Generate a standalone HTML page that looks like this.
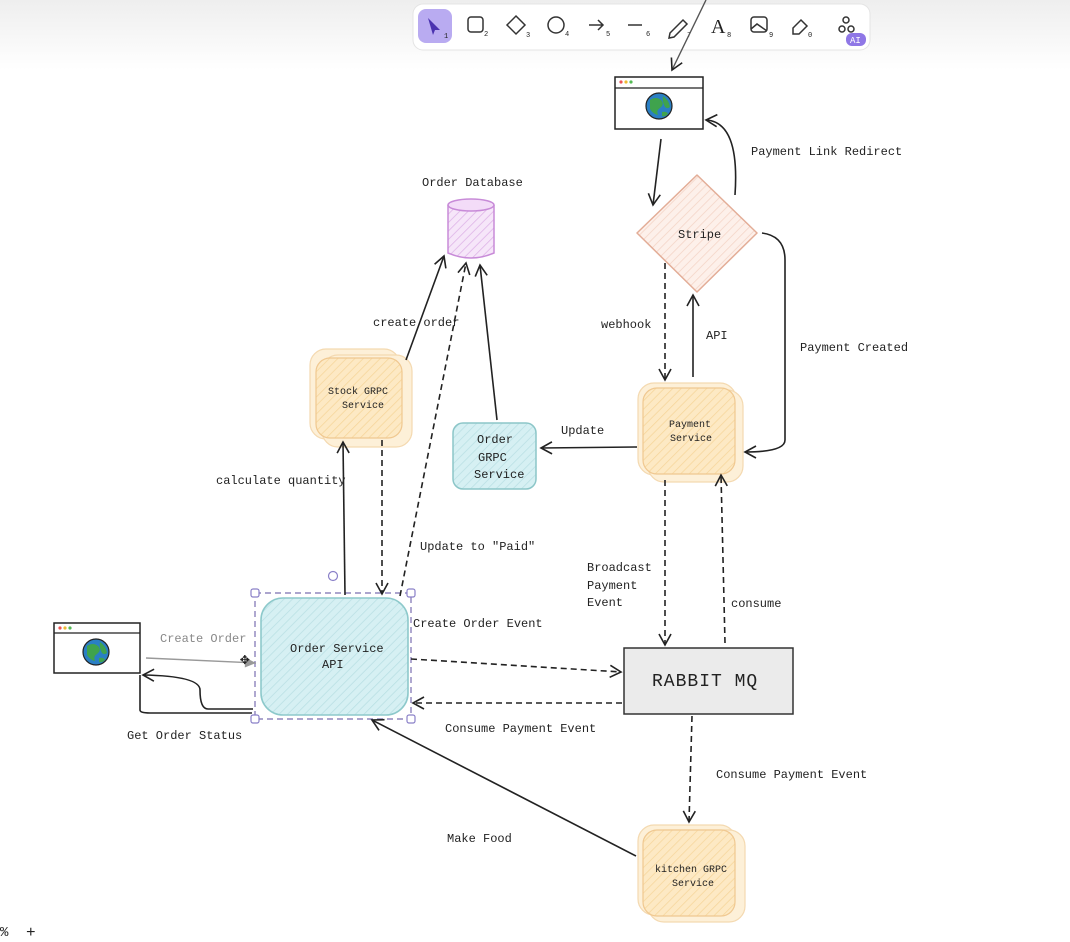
<!DOCTYPE html>
<html><head><meta charset="utf-8"><style>
html,body{margin:0;padding:0;background:#fff;}
body{width:1070px;height:942px;overflow:hidden;position:relative;font-family:"Liberation Sans",sans-serif;}
svg{position:absolute;left:0;top:0}
text{font-family:"Liberation Mono","DejaVu Sans Mono",monospace;font-size:12px;fill:#222}
</style></head><body>
<svg width="1070" height="942" viewBox="0 0 1070 942">
<defs>
<linearGradient id="tg" x1="0" y1="0" x2="0" y2="1"><stop offset="0" stop-color="#eeeeee"/><stop offset="1" stop-color="#ffffff"/></linearGradient>
<pattern id="hatchB" width="6" height="6" patternUnits="userSpaceOnUse" patternTransform="rotate(45)"><rect width="6" height="6" fill="#d6f0f3"/><line x1="0" y1="0" x2="0" y2="6" stroke="#b8dfe3" stroke-width="1.5"/></pattern>
<pattern id="hatchO" width="6" height="6" patternUnits="userSpaceOnUse" patternTransform="rotate(45)"><rect width="6" height="6" fill="#fde9c4"/><line x1="0" y1="0" x2="0" y2="6" stroke="#f6d59a" stroke-width="1.5"/></pattern>
<pattern id="hatchP" width="6" height="6" patternUnits="userSpaceOnUse" patternTransform="rotate(45)"><rect width="6" height="6" fill="#f6e6f9"/><line x1="0" y1="0" x2="0" y2="6" stroke="#dcb0e6" stroke-width="1.5"/></pattern>
<pattern id="hatchR" width="6" height="6" patternUnits="userSpaceOnUse" patternTransform="rotate(45)"><rect width="6" height="6" fill="#fdf0ea"/><line x1="0" y1="0" x2="0" y2="6" stroke="#f3d3c5" stroke-width="1.5"/></pattern>
<marker id="a" markerWidth="14" markerHeight="14" refX="12" refY="7" orient="auto" markerUnits="userSpaceOnUse"><path d="M1,1 L12,7 L1,13" fill="none" stroke="#222" stroke-width="1.6"/></marker>
<marker id="ag" markerWidth="14" markerHeight="14" refX="12" refY="7" orient="auto" markerUnits="userSpaceOnUse"><path d="M1,2 L12,7 L1,12 Z" fill="#999"/></marker>
<g id="globe"><circle r="13" fill="#2a7fc4"/><path d="M-9,-6 Q-3,-10 2,-6 Q6,-2 1,2 Q-3,4 -1,9 Q-6,8 -9,3 Z M4,-10 Q10,-6 11,1 Q7,4 5,-1 Q3,-6 4,-10 Z M3,6 Q8,5 9,8 Q6,11 3,10 Z" fill="#3fa34d"/><circle r="13" fill="none" stroke="#222" stroke-width="1.2"/></g>
</defs>
<rect width="1070" height="70" fill="url(#tg)"/>
<rect x="413" y="4" width="457" height="46" rx="10" fill="#fff" stroke="#e4e4e4"/>
<rect x="418" y="9" width="34" height="34" rx="8" fill="#b9abf1"/>
<path d="M428,18 L440,30 L435,30 L433,35 Z" fill="#4b33b0"/>
<g fill="none" stroke="#333" stroke-width="1.5">
<rect x="468" y="17" width="15" height="15" rx="3"/>
<path d="M516,16 L525,25 L516,34 L507,25 Z"/>
<circle cx="556" cy="25" r="8"/>
<path d="M589,25 L603,25 M598,20 L603,25 L598,30"/>
<path d="M628,25 L642,25"/>
<path d="M670,33 L683,20 L687,24 L674,37 L669,38 Z"/>
<rect x="751" y="17" width="16" height="15" rx="3"/><path d="M751,29 L757,24 L767,31"/>
<path d="M793,28 L801,20 L807,26 L799,34 L793,34 Z"/>
<circle cx="846" cy="20" r="3"/><circle cx="842" cy="29" r="3"/><circle cx="851" cy="29" r="3"/>
</g>
<text x="711" y="33" style="font-size:20px;font-family:'Liberation Serif'">A</text>
<rect x="846" y="33" width="20" height="13" rx="6" fill="#8f77e6"/><text x="850" y="43" style="font-size:9px;fill:#fff">AI</text>
<g><text x="444" y="38" style="font-size:7px">1</text><text x="484" y="36" style="font-size:7px">2</text><text x="526" y="37" style="font-size:7px">3</text><text x="565" y="36" style="font-size:7px">4</text><text x="606" y="36" style="font-size:7px">5</text><text x="646" y="36" style="font-size:7px">6</text><text x="687" y="37" style="font-size:7px">7</text><text x="727" y="37" style="font-size:7px">8</text><text x="769" y="37" style="font-size:7px">9</text><text x="808" y="37" style="font-size:7px">0</text></g>
<line x1="706" y1="0" x2="672" y2="70" stroke="#555" stroke-width="1.4" marker-end="url(#a)"/>

<rect x="615" y="77" width="88" height="52" fill="#fff" stroke="#222" stroke-width="1.5"/>
<line x1="615" y1="88" x2="703" y2="88" stroke="#222" stroke-width="1.2"/>
<circle cx="621" cy="82" r="1.6" fill="#e55"/><circle cx="626" cy="82" r="1.6" fill="#eb3"/><circle cx="631" cy="82" r="1.6" fill="#5b5"/>
<use href="#globe" x="659" y="106"/>
<rect x="54" y="623" width="86" height="50" fill="#fff" stroke="#222" stroke-width="1.5"/>
<line x1="54" y1="633" x2="140" y2="633" stroke="#222" stroke-width="1.2"/>
<circle cx="60" cy="628" r="1.6" fill="#e55"/><circle cx="65" cy="628" r="1.6" fill="#eb3"/><circle cx="70" cy="628" r="1.6" fill="#5b5"/>
<use href="#globe" x="96" y="652"/>

<path d="M697,175 L757,233 L697,292 L637,233 Z" fill="url(#hatchR)" stroke="#e3ad97" stroke-width="1.5" stroke-linejoin="round"/>
<text x="678" y="238">Stripe</text>

<path d="M448,205 L448,253 Q471,263 494,253 L494,205" fill="url(#hatchP)" stroke="#c88bd8" stroke-width="1.5"/>
<ellipse cx="471" cy="205" rx="23" ry="6" fill="#f3dcf8" stroke="#c88bd8" stroke-width="1.5"/>
<text x="422" y="186">Order Database</text>

<rect x="310" y="349" width="90" height="90" rx="16" fill="#fdf0d8" stroke="#f4d9b0" stroke-width="1.2"/>
<rect x="322" y="355" width="90" height="92" rx="16" fill="#fdf0d8" stroke="#f4d9b0" stroke-width="1.2"/>
<rect x="316" y="358" width="86" height="80" rx="14" fill="url(#hatchO)" stroke="#f0c890" stroke-width="1.2"/>
<text x="328" y="394" style="font-size:10px">Stock GRPC</text>
<text x="342" y="408" style="font-size:10px">Service</text>

<rect x="453" y="423" width="83" height="66" rx="10" fill="url(#hatchB)" stroke="#8cc6c8" stroke-width="1.5"/>
<text x="477" y="443">Order</text><text x="478" y="461">GRPC</text><text x="474" y="478">Service</text>

<rect x="638" y="383" width="98" height="92" rx="16" fill="#fdf0d8" stroke="#f4d9b0" stroke-width="1.2"/>
<rect x="648" y="390" width="95" height="92" rx="16" fill="#fdf0d8" stroke="#f4d9b0" stroke-width="1.2"/>
<rect x="643" y="388" width="92" height="86" rx="14" fill="url(#hatchO)" stroke="#f0c890" stroke-width="1.2"/>
<text x="669" y="427" style="font-size:10px">Payment</text><text x="670" y="441" style="font-size:10px">Service</text>

<rect x="638" y="825" width="98" height="90" rx="16" fill="#fdf0d8" stroke="#f4d9b0" stroke-width="1.2"/>
<rect x="648" y="830" width="97" height="92" rx="16" fill="#fdf0d8" stroke="#f4d9b0" stroke-width="1.2"/>
<rect x="643" y="830" width="92" height="86" rx="14" fill="url(#hatchO)" stroke="#f0c890" stroke-width="1.2"/>
<text x="655" y="872" style="font-size:10px">kitchen GRPC</text><text x="672" y="886" style="font-size:10px">Service</text>

<rect x="261" y="598" width="147" height="117" rx="22" fill="url(#hatchB)" stroke="#8dc9cb" stroke-width="1.6"/>
<rect x="255" y="593" width="156" height="126" fill="none" stroke="#7a6fb0" stroke-width="1.2" stroke-dasharray="6,4"/>
<g fill="#fff" stroke="#8a80c8" stroke-width="1.2"><rect x="251" y="589" width="8" height="8" rx="2"/><rect x="407" y="589" width="8" height="8" rx="2"/><rect x="251" y="715" width="8" height="8" rx="2"/><rect x="407" y="715" width="8" height="8" rx="2"/></g>
<circle cx="333" cy="576" r="4.5" fill="#fff" stroke="#8a80c8" stroke-width="1.2"/>
<text x="290" y="652">Order Service</text><text x="322" y="668">API</text>

<rect x="624" y="648" width="169" height="66" fill="#ebebeb" stroke="#333" stroke-width="1.5"/>
<text x="652" y="686" style="font-size:18px;letter-spacing:1px">RABBIT MQ</text>

<g fill="none" stroke="#222" stroke-width="1.6">
<path d="M661,139 L653,205" marker-end="url(#a)"/>
<path d="M735,195 Q740,122 706,120" marker-end="url(#a)"/>
<path d="M762,233 Q785,236 785,260 L785,440 Q785,452 745,452" marker-end="url(#a)"/>
<path d="M693,377 L693,295" marker-end="url(#a)"/>
<path d="M665,263 L665,380" stroke-dasharray="6,4" marker-end="url(#a)"/>
<path d="M637,447 L541,448" marker-end="url(#a)"/>
<path d="M497,420 L480,265" marker-end="url(#a)"/>
<path d="M406,360 L444,256" marker-end="url(#a)"/>
<path d="M345,595 L343,442" marker-end="url(#a)"/>
<path d="M382,440 L382,594" stroke-dasharray="6,4" marker-end="url(#a)"/>
<path d="M400,596 L466,263" stroke-dasharray="6,4" marker-end="url(#a)"/>
<path d="M411,659 L621,672" stroke-dasharray="6,4" marker-end="url(#a)"/>
<path d="M622,703 L413,703" stroke-dasharray="6,4" marker-end="url(#a)"/>
<path d="M665,480 L665,645" stroke-dasharray="6,4" marker-end="url(#a)"/>
<path d="M725,643 L721,475" stroke-dasharray="6,4" marker-end="url(#a)"/>
<path d="M692,716 L689,822" stroke-dasharray="6,4" marker-end="url(#a)"/>
<path d="M636,856 L372,720" marker-end="url(#a)"/>
<path d="M253,709 L208,709 Q200,709 200,690 Q200,676 143,675" marker-end="url(#a)"/>
<path d="M140,675 L140,710 Q140,713 150,713 L252,713"/>
</g>
<path d="M146,658 L256,663" stroke="#999" stroke-width="1.4" fill="none" marker-end="url(#ag)"/>
<text x="240" y="664" style="font-size:16px">✥</text>

<text x="751" y="155">Payment Link Redirect</text>
<text x="800" y="351">Payment Created</text>
<text x="601" y="328">webhook</text>
<text x="706" y="339">API</text>
<text x="561" y="434">Update</text>
<text x="373" y="326">create order</text>
<text x="216" y="484">calculate quantity</text>
<text x="420" y="550">Update to "Paid"</text>
<text x="587" y="571">Broadcast</text><text x="587" y="589">Payment</text><text x="587" y="606">Event</text>
<text x="731" y="607">consume</text>
<text x="413" y="627">Create Order Event</text>
<text x="160" y="642" style="fill:#888">Create Order</text>
<text x="445" y="732">Consume Payment Event</text>
<text x="127" y="739">Get Order Status</text>
<text x="716" y="778">Consume Payment Event</text>
<text x="447" y="842">Make Food</text>
<text x="0" y="936" style="font-size:14px">%</text><text x="26" y="937" style="font-size:16px">+</text>
</svg>
</body></html>
